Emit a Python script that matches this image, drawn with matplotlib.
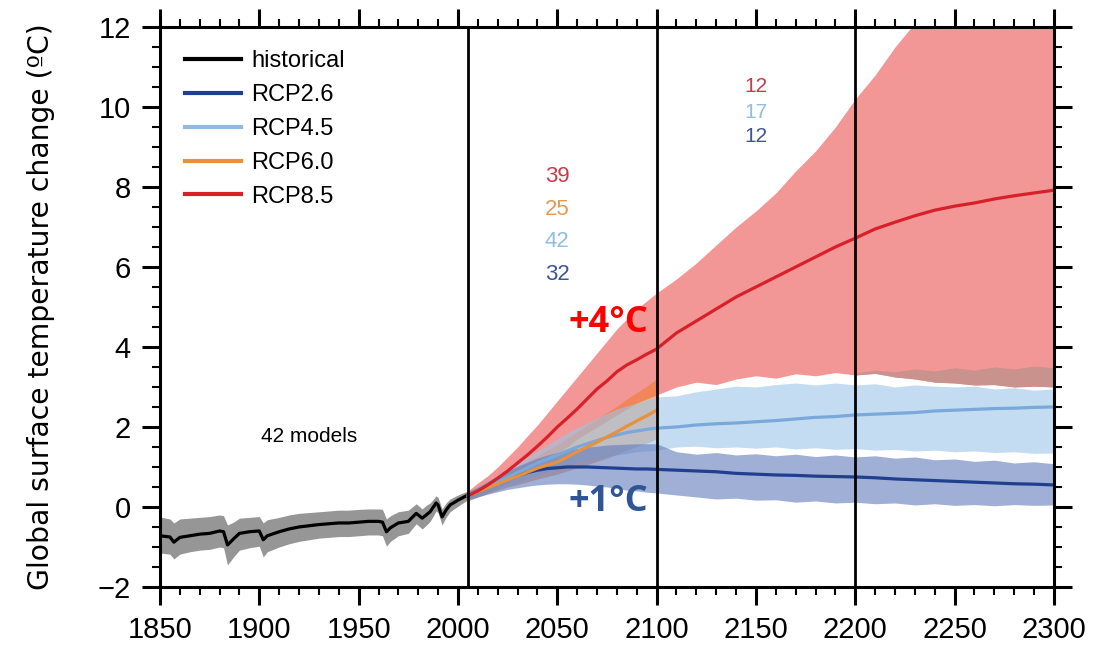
import numpy as np
import matplotlib
matplotlib.use("Agg")
import matplotlib.pyplot as plt
from matplotlib.lines import Line2D
from matplotlib.ticker import MultipleLocator

plt.rcParams['font.family'] = ['Liberation Sans', 'DejaVu Sans']

# historical run (multi-model mean and spread)
hist_years = [1850, 1855, 1857, 1860, 1865, 1870, 1875, 1880, 1882, 1884, 1887, 1890,
              1895, 1900, 1902, 1904, 1910, 1915, 1920, 1925, 1930, 1935, 1940, 1945,
              1950, 1955, 1960, 1962, 1964, 1966, 1970, 1975, 1979, 1982, 1984, 1986,
              1989, 1990, 1992, 1994, 1996, 2000, 2005]
hist_mean = [-0.72, -0.75, -0.88, -0.76, -0.72, -0.68, -0.66, -0.60, -0.62, -0.95, -0.80, -0.66,
             -0.62, -0.60, -0.82, -0.72, -0.62, -0.55, -0.50, -0.47, -0.44, -0.42, -0.40, -0.40,
             -0.38, -0.36, -0.36, -0.38, -0.62, -0.52, -0.40, -0.36, -0.16, -0.28, -0.20, -0.12,
             0.10, 0.05, -0.25, -0.08, 0.05, 0.17, 0.30]
hist_hi = [-0.25, -0.30, -0.40, -0.30, -0.28, -0.26, -0.24, -0.20, -0.22, -0.45, -0.38, -0.28,
           -0.26, -0.24, -0.40, -0.32, -0.26, -0.20, -0.16, -0.14, -0.12, -0.10, -0.08, -0.08,
           -0.06, -0.05, -0.05, -0.06, -0.30, -0.22, -0.12, -0.08, 0.08, -0.05, 0.04, 0.10,
           0.28, 0.24, -0.05, 0.10, 0.20, 0.30, 0.40]
hist_lo = [-1.15, -1.18, -1.30, -1.18, -1.12, -1.08, -1.06, -1.00, -1.02, -1.45, -1.25, -1.08,
           -1.02, -0.98, -1.25, -1.12, -1.00, -0.92, -0.86, -0.82, -0.78, -0.76, -0.74, -0.74,
           -0.72, -0.70, -0.70, -0.72, -0.98, -0.86, -0.72, -0.66, -0.42, -0.55, -0.46, -0.36,
           -0.10, -0.15, -0.45, -0.26, -0.12, 0.02, 0.18]

# projections
fut_years = [2005, 2010, 2015, 2020, 2025, 2030, 2035, 2040, 2045, 2050,
             2055, 2060, 2065, 2070, 2075, 2080, 2085, 2090, 2095, 2100,
             2110, 2120, 2130, 2140, 2150, 2160, 2170, 2180, 2190, 2200,
             2210, 2220, 2230, 2240, 2250, 2260, 2270, 2280, 2290, 2300]

rcp85_mean = [0.28, 0.40, 0.55, 0.72, 0.90, 1.10, 1.30, 1.52, 1.75, 2.00,
              2.22, 2.45, 2.70, 2.95, 3.15, 3.38, 3.55, 3.68, 3.82, 3.95,
              4.35, 4.65, 4.95, 5.25, 5.50, 5.75, 6.00, 6.25, 6.50, 6.72,
              6.95, 7.12, 7.28, 7.42, 7.52, 7.60, 7.70, 7.78, 7.85, 7.92]
rcp85_hi = [0.40, 0.60, 0.78, 1.00, 1.25, 1.50, 1.78, 2.05, 2.35, 2.65,
            2.95, 3.25, 3.55, 3.85, 4.15, 4.45, 4.70, 4.95, 5.15, 5.35,
            5.70, 6.10, 6.55, 7.00, 7.40, 7.85, 8.40, 8.90, 9.50, 10.20,
            10.80, 11.50, 12.10, 12.60, 13.00, 13.40, 13.70, 14.00, 14.20, 14.40]
rcp85_lo = [0.15, 0.25, 0.35, 0.48, 0.60, 0.75, 0.90, 1.05, 1.20, 1.35,
            1.50, 1.70, 1.85, 2.00, 2.15, 2.30, 2.45, 2.60, 2.70, 2.80,
            3.00, 3.12, 3.06, 3.20, 3.28, 3.22, 3.33, 3.28, 3.36, 3.30,
            3.34, 3.25, 3.20, 3.12, 3.10, 3.05, 3.06, 3.00, 3.02, 3.00]
# darker lower fringe of the RCP8.5 range after 2200
fringe_years = [2200, 2210, 2220, 2230, 2240, 2250, 2260, 2270, 2280, 2290, 2300]
fringe_hi = [3.35, 3.42, 3.38, 3.45, 3.40, 3.48, 3.42, 3.50, 3.45, 3.52, 3.48]

rcp60_years = fut_years[:20]
rcp60_mean = [0.28, 0.38, 0.48, 0.58, 0.68, 0.77, 0.87, 0.97, 1.05, 1.12,
              1.25, 1.38, 1.50, 1.62, 1.75, 1.88, 2.02, 2.15, 2.28, 2.42]
rcp60_hi = [0.38, 0.50, 0.62, 0.75, 0.88, 1.00, 1.14, 1.28, 1.42, 1.55,
            1.72, 1.88, 2.04, 2.20, 2.36, 2.52, 2.70, 2.86, 3.02, 3.20]
rcp60_lo = [0.18, 0.26, 0.34, 0.42, 0.50, 0.56, 0.63, 0.70, 0.76, 0.82,
            0.90, 0.98, 1.06, 1.14, 1.22, 1.32, 1.42, 1.52, 1.60, 1.70]

rcp45_mean = [0.28, 0.38, 0.50, 0.62, 0.74, 0.86, 0.98, 1.10, 1.20, 1.30,
              1.40, 1.50, 1.58, 1.66, 1.74, 1.80, 1.86, 1.90, 1.94, 1.97,
              2.00, 2.05, 2.08, 2.10, 2.13, 2.16, 2.20, 2.24, 2.26, 2.30,
              2.32, 2.34, 2.36, 2.40, 2.42, 2.44, 2.46, 2.47, 2.49, 2.50]
rcp45_hi = [0.38, 0.50, 0.65, 0.80, 0.95, 1.10, 1.25, 1.40, 1.55, 1.70,
            1.85, 1.98, 2.10, 2.22, 2.34, 2.45, 2.53, 2.60, 2.68, 2.75,
            2.78, 2.88, 2.95, 3.02, 3.00, 3.06, 3.10, 3.05, 3.10, 3.05,
            3.08, 3.00, 3.05, 3.02, 3.00, 3.02, 2.95, 2.98, 2.92, 2.95]
rcp45_lo = [0.18, 0.26, 0.35, 0.44, 0.53, 0.62, 0.72, 0.80, 0.88, 0.95,
            1.02, 1.10, 1.15, 1.20, 1.26, 1.30, 1.34, 1.38, 1.40, 1.42,
            1.50, 1.52, 1.48, 1.50, 1.47, 1.50, 1.45, 1.48, 1.44, 1.46,
            1.42, 1.44, 1.40, 1.42, 1.38, 1.40, 1.36, 1.38, 1.34, 1.35]

rcp26_mean = [0.28, 0.38, 0.50, 0.60, 0.70, 0.78, 0.86, 0.92, 0.96, 0.98,
              1.00, 1.00, 1.00, 0.99, 0.98, 0.97, 0.96, 0.95, 0.95, 0.94,
              0.92, 0.90, 0.88, 0.84, 0.82, 0.80, 0.79, 0.77, 0.76, 0.75,
              0.73, 0.70, 0.68, 0.66, 0.64, 0.62, 0.60, 0.58, 0.57, 0.55]
rcp26_hi = [0.38, 0.50, 0.64, 0.78, 0.90, 1.02, 1.12, 1.22, 1.30, 1.36,
            1.42, 1.46, 1.50, 1.52, 1.55, 1.56, 1.57, 1.58, 1.58, 1.58,
            1.38, 1.32, 1.36, 1.30, 1.33, 1.28, 1.32, 1.26, 1.30, 1.25,
            1.28, 1.22, 1.25, 1.18, 1.20, 1.14, 1.17, 1.10, 1.13, 1.08]
rcp26_lo = [0.18, 0.25, 0.32, 0.38, 0.44, 0.48, 0.52, 0.55, 0.57, 0.58,
            0.58, 0.57, 0.55, 0.52, 0.50, 0.46, 0.42, 0.40, 0.37, 0.35,
            0.30, 0.25, 0.20, 0.22, 0.17, 0.18, 0.12, 0.15, 0.10, 0.12,
            0.08, 0.10, 0.05, 0.08, 0.04, 0.06, 0.03, 0.06, 0.04, 0.05]

# model counts per period
counts_2100 = ['39', '25', '42', '32']
counts_2300 = ['12', '17', '12']

c85, c60, c45, c26 = '#d7202a', '#e8903c', '#7aa8da', '#1f3f8f'

fig = plt.figure(figsize=(11.14, 6.61), dpi=100)
ax = fig.add_axes([0.1436, 0.112, 0.8025, 0.8472])

# shading
ax.fill_between(hist_years, hist_lo, hist_hi, color='#969696', lw=0, zorder=2)
ax.fill_between(fut_years, rcp85_lo, rcp85_hi, color='#eb5050', alpha=0.6, lw=0, zorder=2)
ax.fill_between(fringe_years, rcp85_lo[-11:], fringe_hi, color='#c9928c', lw=0, zorder=2)
ax.fill_between(rcp60_years, rcp60_lo, rcp60_hi, color='#ee7a2a', alpha=0.55, lw=0, zorder=2)
ax.fill_between(fut_years, rcp45_lo, rcp45_hi, color='#9bc5e9', alpha=0.6, lw=0, zorder=2)
ax.fill_between(fut_years, rcp26_lo, rcp26_hi, color='#617abc', alpha=0.6, lw=0, zorder=2)

# means
ax.plot(hist_years, hist_mean, color='black', lw=2.3, zorder=4)
ax.plot(fut_years, rcp26_mean, color=c26, lw=2.3, zorder=4)
ax.plot(fut_years, rcp45_mean, color=c45, lw=2.3, zorder=4)
ax.plot(rcp60_years, rcp60_mean, color=c60, lw=2.3, zorder=4)
ax.plot(fut_years, rcp85_mean, color=c85, lw=2.3, zorder=4)

for yr in [2005, 2100, 2200]:
    ax.axvline(yr, color='black', lw=2, zorder=5)

ax.set_xlim(1850, 2300)
ax.set_ylim(-2, 12)
ax.xaxis.set_major_locator(MultipleLocator(50))
ax.xaxis.set_minor_locator(MultipleLocator(10))
ax.yaxis.set_major_locator(MultipleLocator(2))
ax.yaxis.set_minor_locator(MultipleLocator(0.5))
ax.tick_params(which='both', direction='out', top=True, right=True,
               labeltop=False, labelright=False)
ax.tick_params(which='major', length=13, width=2.2, labelsize=21, pad=8)
ax.tick_params(which='minor', length=6, width=1.5)
for sp in ax.spines.values():
    sp.set_linewidth(2.2)
    sp.set_zorder(6)

ax.set_ylabel('Global surface temperature change (\u00baC)', fontsize=20.3,
              family=['DejaVu Sans'])
ax.yaxis.set_label_coords(-0.117, 0.5)

# annotations
ax.text(1925, 1.75, '42 models', fontsize=15, ha='center', va='center')
for lab, col, yv in zip(counts_2100, ['#cc3a48', '#e39a55', '#92bde3', '#3d5592'],
                        [8.25, 7.43, 6.63, 5.8]):
    ax.text(2050, yv, lab, color=col, fontsize=16, ha='center', va='center')
for lab, col, yv in zip(counts_2300, ['#cc3a48', '#92bde3', '#3d5592'],
                        [10.5, 9.87, 9.25]):
    ax.text(2150, yv, lab, color=col, fontsize=15, ha='center', va='center')

ax.text(2075.5, 4.6, '+4\u00b0C', color='#ff0000', fontsize=26, fontweight='bold',
        family=['Open Sans', 'DejaVu Sans'], ha='center', va='center', zorder=7)
ax.text(2075.5, 0.12, '+1\u00b0C', color='#2f5597', fontsize=26, fontweight='bold',
        family=['Open Sans', 'DejaVu Sans'], ha='center', va='center', zorder=7)

handles = [Line2D([], [], color=c, lw=3) for c in ['black', c26, '#93b9e0', c60, c85]]
ax.legend(handles, ['historical', 'RCP2.6', 'RCP4.5', 'RCP6.0', 'RCP8.5'],
          loc='upper left', bbox_to_anchor=(0.004, 0.996), frameon=False,
          fontsize=17, handlelength=2.4, handletextpad=0.42, labelspacing=0.5)

fig.savefig('out.png', dpi=100)
